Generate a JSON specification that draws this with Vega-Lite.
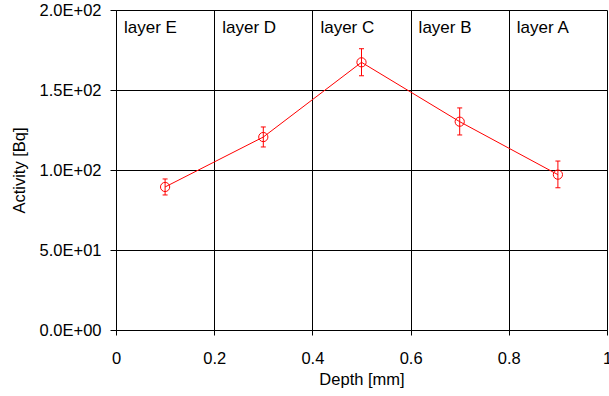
{
  "$schema": "https://vega.github.io/schema/vega-lite/v6.json",
  "width": 491,
  "height": 320,
  "autosize": {"type": "none"},
  "padding": {"left": 116, "top": 10, "right": 2, "bottom": 66},
  "background": "white",
  "config": {
    "font": "Liberation Sans",
    "view": {"stroke": null},
    "axis": {
      "labelFont": "Liberation Sans",
      "titleFont": "Liberation Sans",
      "labelFontSize": 16.5,
      "titleFontSize": 16.5,
      "titleFontWeight": "normal",
      "labelColor": "black",
      "titleColor": "black",
      "domainColor": "black",
      "tickColor": "black",
      "gridColor": "black",
      "gridOpacity": 1,
      "gridWidth": 1
    }
  },
  "datasets": {
    "points": [
      {"depth": 0.1, "activity": 89.4, "lo": 84.4, "hi": 94.4},
      {"depth": 0.3, "activity": 120.6, "lo": 114.4, "hi": 126.9},
      {"depth": 0.5, "activity": 167.3, "lo": 158.9, "hi": 175.8},
      {"depth": 0.7, "activity": 130.2, "lo": 121.9, "hi": 138.8},
      {"depth": 0.9, "activity": 97.1, "lo": 88.9, "hi": 105.6}
    ],
    "layers": [
      {"start": 0.0, "label": "layer E"},
      {"start": 0.2, "label": "layer D"},
      {"start": 0.4, "label": "layer C"},
      {"start": 0.6, "label": "layer B"},
      {"start": 0.8, "label": "layer A"}
    ]
  },
  "layer": [
    {
      "data": {"name": "points"},
      "mark": {"type": "line", "color": "#ff0000", "strokeWidth": 1},
      "encoding": {
        "x": {
          "field": "depth", "type": "quantitative",
          "scale": {"domain": [0, 1], "nice": false},
          "axis": {
            "title": "Depth [mm]",
            "values": [0, 0.2, 0.4, 0.6, 0.8, 1],
            "labelExpr": "datum.value == 0 ? '0' : datum.value == 1 ? '1' : format(datum.value, '.1f')",
            "grid": true,
            "tickSize": 5,
            "labelPadding": 15,
            "titlePadding": 5,
            "labelFlush": false
          }
        },
        "y": {
          "field": "activity", "type": "quantitative",
          "scale": {"domain": [0, 200], "nice": false},
          "axis": {
            "title": "Activity [Bq]",
            "values": [0, 50, 100, 150, 200],
            "labelExpr": "datum.value == 0 ? '0.0E+00' : format(datum.value / pow(10, floor(log(datum.value) / LN10 + 1e-9)), '.1f') + 'E+0' + floor(log(datum.value) / LN10 + 1e-9)",
            "grid": true,
            "tickSize": 6,
            "labelPadding": 9,
            "titlePadding": 12,
            "labelFlush": false
          }
        }
      }
    },
    {
      "data": {"name": "points"},
      "mark": {"type": "rule", "color": "#ff0000", "strokeWidth": 1},
      "encoding": {
        "x": {"field": "depth", "type": "quantitative"},
        "y": {"field": "lo", "type": "quantitative"},
        "y2": {"field": "hi"}
      }
    },
    {
      "data": {"name": "points"},
      "mark": {"type": "tick", "orient": "horizontal", "color": "#ff0000", "size": 5, "thickness": 1, "opacity": 1},
      "encoding": {
        "x": {"field": "depth", "type": "quantitative"},
        "y": {"field": "lo", "type": "quantitative"}
      }
    },
    {
      "data": {"name": "points"},
      "mark": {"type": "tick", "orient": "horizontal", "color": "#ff0000", "size": 5, "thickness": 1, "opacity": 1},
      "encoding": {
        "x": {"field": "depth", "type": "quantitative"},
        "y": {"field": "hi", "type": "quantitative"}
      }
    },
    {
      "data": {"name": "points"},
      "mark": {"type": "point", "shape": "circle", "filled": false, "color": "#ff0000", "size": 85, "strokeWidth": 1, "opacity": 1},
      "encoding": {
        "x": {"field": "depth", "type": "quantitative"},
        "y": {"field": "activity", "type": "quantitative"}
      }
    },
    {
      "data": {"name": "layers"},
      "mark": {"type": "text", "align": "left", "baseline": "alphabetic", "dx": 8, "dy": 23, "fontSize": 17, "font": "Liberation Sans", "color": "black"},
      "encoding": {
        "x": {"field": "start", "type": "quantitative"},
        "y": {"datum": 200, "type": "quantitative"},
        "text": {"field": "label"}
      }
    }
  ]
}
